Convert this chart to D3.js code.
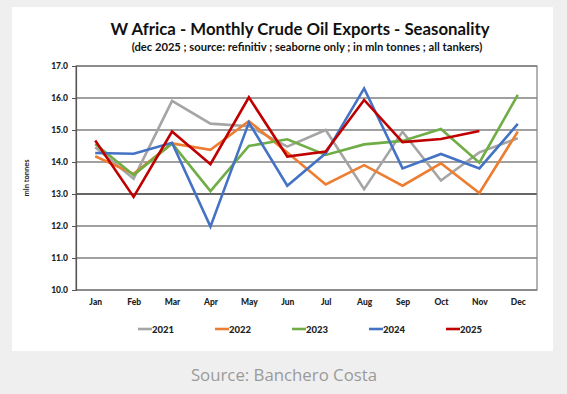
<!DOCTYPE html>
<html>
<head>
<meta charset="utf-8">
<script src="https://cdn.jsdelivr.net/npm/d3@7"></script>
<style>
  body { margin: 0; background: #efefef; }
  svg text { font-family: Lato, "Open Sans", sans-serif; }
</style>
</head>
<body>
<div class="canva"></div>
<script>
// values (mln tonnes)
const months = ["Jan","Feb","Mar","Apr","May","Jun","Jul","Aug","Sep","Oct","Nov","Dec"];
const years = ["2021","2022","2023","2024","2025"];
const colors = ["#a5a5a5","#ed7d31","#70ad47","#4472c4","#c00000"];
const yTicks = [10,11,12,13,14,15,16,17];

const y2021 = [14.46,13.48,15.91,15.2,15.12,14.48,15.0,13.15,14.95,13.42,14.3,14.74];
const y2022 = [14.18,13.63,14.58,14.38,15.28,14.3,13.3,13.9,13.26,13.96,13.03,14.95];
const y2023 = [14.56,13.59,14.58,13.09,14.5,14.71,14.22,14.55,14.66,15.03,13.98,16.1];
const y2024 = [14.28,14.26,14.6,11.98,15.23,13.26,14.27,16.3,13.8,14.25,13.8,15.19];
const y2025 = [14.67,12.91,14.95,13.93,16.02,14.17,14.33,15.94,14.62,14.72,14.97,null];
const series = [y2021,y2022,y2023,y2024,y2025];

const W = 567, H = 394;
const svg = d3.select('.canva').append('svg')
    .attr('width', W)
    .attr('height', H);

// white card
svg.append('rect')
    .attr('x', 12).attr('y', 7)
    .attr('width', 541).attr('height', 344)
    .attr('fill', '#fff');

const mLeft = 76, mRight = 537, mTop = 66, mBottom = 290;

const x = d3.scalePoint().domain(months).range([mLeft, mRight]).padding(0.5);
const y = d3.scaleLinear().domain([10, 17]).range([mBottom, mTop]);

// title
svg.append('text')
    .attr('x', 300).attr('y', 35)
    .attr('text-anchor', 'middle')
    .attr('font-size', 16.8).attr('font-weight', 'bold')
    .attr('fill', '#111')
    .text('W Africa - Monthly Crude Oil Exports - Seasonality');

svg.append('text')
    .attr('x', 307).attr('y', 51)
    .attr('text-anchor', 'middle')
    .attr('font-size', 11.2).attr('font-weight', 'bold')
    .attr('fill', '#111')
    .text('(dec 2025 ; source: refinitiv ; seaborne only ; in mln tonnes ; all tankers)');

// gridlines
svg.append('g')
    .selectAll('line')
    .data(yTicks)
    .enter().append('line')
    .attr('x1', mLeft).attr('x2', mRight)
    .attr('y1', d => y(d)).attr('y2', d => y(d))
    .attr('stroke', d => d == 13 ? '#333' : '#808080')
    .attr('stroke-width', 1.5);

// plot frame
svg.append('rect')
    .attr('x', mLeft).attr('y', mTop)
    .attr('width', mRight - mLeft).attr('height', mBottom - mTop)
    .attr('fill', 'none')
    .attr('stroke', '#808080')
    .attr('stroke-width', 1.2);

// y axis
const yAxis = svg.append('g')
    .attr('transform', `translate(${mLeft},0)`)
    .call(d3.axisLeft(y).tickValues(yTicks).tickFormat(d3.format('.1f')).tickSize(4).tickPadding(4));
yAxis.select('.domain').attr('stroke', '#555').attr('stroke-width', 1.2);
yAxis.selectAll('line').attr('stroke', '#555');
yAxis.selectAll('text')
    .attr('font-size', 8.5).attr('font-weight', 900).attr('fill', '#222')
    .style('font-family', 'Lato, sans-serif');

svg.append('text')
    .attr('transform', `translate(29,${(mTop + mBottom) / 2}) rotate(-90)`)
    .attr('text-anchor', 'middle')
    .attr('font-size', 7.5).attr('font-weight', 'bold')
    .attr('fill', '#222')
    .text('mln tonnes');

// x labels
const xAxis = svg.append('g')
    .attr('transform', `translate(0,${mBottom})`)
    .call(d3.axisBottom(x).tickSize(0).tickPadding(9));
xAxis.select('.domain').remove();
xAxis.selectAll('text')
    .attr('font-size', 8.5).attr('font-weight', 900).attr('fill', '#222')
    .style('font-family', 'Lato, sans-serif');

// lines
const line = d3.line()
    .defined(d => d != null)
    .x((d, i) => x(months[i]))
    .y(d => y(d));

svg.append('g')
    .selectAll('path')
    .data(series)
    .enter().append('path')
    .attr('d', d => line(d))
    .attr('fill', 'none')
    .attr('stroke', (d, i) => colors[i])
    .attr('stroke-width', 2.6)
    .attr('stroke-linejoin', 'miter');

// legend
const legend = svg.append('g')
    .selectAll('g')
    .data(years)
    .enter().append('g')
    .attr('transform', (d, i) => `translate(${138 + i * 77},329)`);

legend.append('line')
    .attr('x1', 0).attr('x2', 14)
    .attr('stroke', (d, i) => colors[i])
    .attr('stroke-width', 2.6);

legend.append('text')
    .attr('x', 14).attr('y', 3.5)
    .attr('font-size', 9.5).attr('font-weight', 900)
    .attr('fill', '#222')
    .text(d => d);

// source caption
svg.append('text')
    .attr('x', 284).attr('y', 381)
    .attr('text-anchor', 'middle')
    .attr('font-size', 16.8)
    .attr('fill', '#9a9a9a')
    .style('font-family', '"Open Sans", sans-serif')
    .text('Source: Banchero Costa');
</script>
</body>
</html>
